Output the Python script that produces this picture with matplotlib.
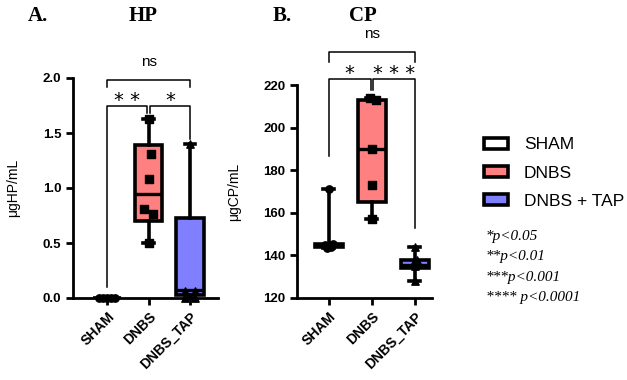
import numpy as np
import matplotlib.pyplot as plt
from matplotlib.patches import Patch

plt.rcParams['font.family'] = ['Liberation Sans', 'DejaVu Sans']

groups = ["SHAM", "DNBS", "DNBS_TAP"]
colors = ["white", "#ff8080", "#8080ff"]
markers = ["o", "s", "^"]

# HP (ug/mL)
hp_points = [[0.0, 0.0, 0.0, 0.0, 0.0],
             [1.63, 1.31, 1.08, 0.81, 0.76, 0.50],
             [0.0, 0.0, 0.06, 0.06, 1.40]]
hp_jitter = [[-0.2, -0.1, 0.0, 0.1, 0.2],
             [0.0, 0.06, 0.02, -0.1, 0.1, 0.0],
             [-0.12, 0.12, -0.12, 0.12, 0.0]]
hp_box = [(0.0, 0.0, 0.0, 0.0, 0.0),        # min, q1, med, q3, max
          (0.50, 0.70, 0.95, 1.39, 1.63),
          (0.0, 0.03, 0.07, 0.73, 1.40)]

# CP (ug/mL)
cp_points = [[143.5, 144.0, 145.0, 145.5, 171.0],
             [214.0, 213.0, 190.0, 173.0, 157.0],
             [144.0, 138.0, 136.0, 135.0, 128.0]]
cp_jitter = [[-0.05, 0.05, -0.1, 0.1, 0.0],
             [-0.05, 0.1, 0.0, 0.0, 0.0],
             [0.0, 0.05, -0.05, 0.0, 0.0]]
cp_box = [(143.5, 144.0, 145.0, 145.5, 171.0),
          (157.0, 165.0, 190.0, 213.0, 214.0),
          (128.0, 134.0, 135.5, 138.0, 144.0)]

fig = plt.figure(figsize=(6.27, 3.80), dpi=100)
axA = fig.add_axes([73/627, 1-298/380, 145/627, 220/380])
axB = fig.add_axes([297/627, 1-298/380, 135/627, 213/380])


def draw(ax, boxes, points, jitter, ylim, xlim, yticks, ylabel):
    stats = []
    for b in boxes:
        stats.append(dict(whislo=b[0], q1=b[1], med=b[2], q3=b[3], whishi=b[4], fliers=[]))
    bp = ax.bxp(stats, positions=range(3), widths=0.66, patch_artist=True,
                showfliers=False,
                boxprops=dict(linewidth=2.6, edgecolor="black"),
                medianprops=dict(color="black", linewidth=2.4),
                whiskerprops=dict(color="black", linewidth=2.6),
                capprops=dict(color="black", linewidth=2.6), capwidths=0.25)
    for patch, c in zip(bp["boxes"], colors):
        patch.set_facecolor(c)
    for i, pts in enumerate(points):
        ax.scatter(i + np.array(jitter[i]), pts, marker=markers[i], s=28,
                   color="black", zorder=5, clip_on=False)
    ax.set_xlim(*xlim)
    ax.set_ylim(*ylim)
    ax.set_yticks(yticks)
    ax.set_xticks(range(3))
    ax.set_xticklabels(groups, rotation=45, ha="right", rotation_mode="anchor",
                       fontsize=10, fontweight="bold")
    for t in ax.get_yticklabels():
        t.set_fontweight("bold")
        t.set_fontsize(9.5)
    ax.set_ylabel(ylabel, fontsize=10, labelpad=16)
    for s in ["top", "right"]:
        ax.spines[s].set_visible(False)
    for s in ["left", "bottom"]:
        ax.spines[s].set_linewidth(2.0)
    ax.tick_params(width=2.0, length=5)


def bracket(ax, x1, x2, y, d1, d2, text, dy, size=14):
    ax.plot([x1, x1, x2, x2], [d1, y, y, d2], color="black", lw=1.1, clip_on=False)
    ax.text((x1 + x2) / 2, y + dy, text, ha="center", va="bottom", fontsize=size,
            family="DejaVu Sans", clip_on=False)


draw(axA, hp_box, hp_points, hp_jitter, (0, 2.0), (-0.82, 2.67),
     [0.0, 0.5, 1.0, 1.5, 2.0], "μgHP/mL")
axA.set_yticklabels(["0.0", "0.5", "1.0", "1.5", "2.0"], fontweight="bold", fontsize=9.5)
draw(axB, cp_box, cp_points, cp_jitter, (120, 220), (-0.74, 2.40),
     [120, 140, 160, 180, 200, 220], "μgCP/mL")

axA.text(1, 1.98 + 0.1, "ns", ha="center", va="bottom", fontsize=11)
axA.plot([0, 0, 2, 2], [1.92, 1.98, 1.98, 1.92], color="black", lw=1.1, clip_on=False)
bracket(axA, 0, 0.97, 1.75, 0.1, 1.68, "* *", -0.04)
bracket(axA, 1.03, 2, 1.75, 1.68, 1.45, "*", -0.04)

axB.text(1, 235.5 + 5, "ns", ha="center", va="bottom", fontsize=11)
axB.plot([0, 0, 2, 2], [231, 235.5, 235.5, 231], color="black", lw=1.1, clip_on=False)
bracket(axB, 0, 0.97, 222.8, 186.7, 217.6, "*", -2)
bracket(axB, 1.03, 2, 222.8, 217.6, 153, "* * *", -2)

fig.text(28/627, 1-16/380, "A.", fontsize=15, fontweight="bold", family="Liberation Serif", va="center")
fig.text(143/627, 1-16/380, "HP", fontsize=15, fontweight="bold", family="Liberation Serif", va="center", ha="center")
fig.text(273/627, 1-16/380, "B.", fontsize=15, fontweight="bold", family="Liberation Serif", va="center")
fig.text(363/627, 1-16/380, "CP", fontsize=15, fontweight="bold", family="Liberation Serif", va="center", ha="center")

handles = [Patch(facecolor=c, edgecolor="black", linewidth=2.6) for c in colors]
fig.legend(handles, ["SHAM", "DNBS", "DNBS + TAP"], loc="center left",
           bbox_to_anchor=(484/627, 1-173/380), frameon=False, fontsize=12.5,
           borderaxespad=0, borderpad=0,
           handlelength=1.4, handleheight=0.55, labelspacing=0.75, handletextpad=0.9)

pvals = ["*p<0.05", "**p<0.01", "***p<0.001", "**** p<0.0001"]
for i, t in enumerate(pvals):
    fig.text(486/627, 1-(236 + i*20.5)/380, t, fontsize=11, style="italic",
             family="Liberation Serif", va="center")

fig.savefig("out.png", dpi=100)
